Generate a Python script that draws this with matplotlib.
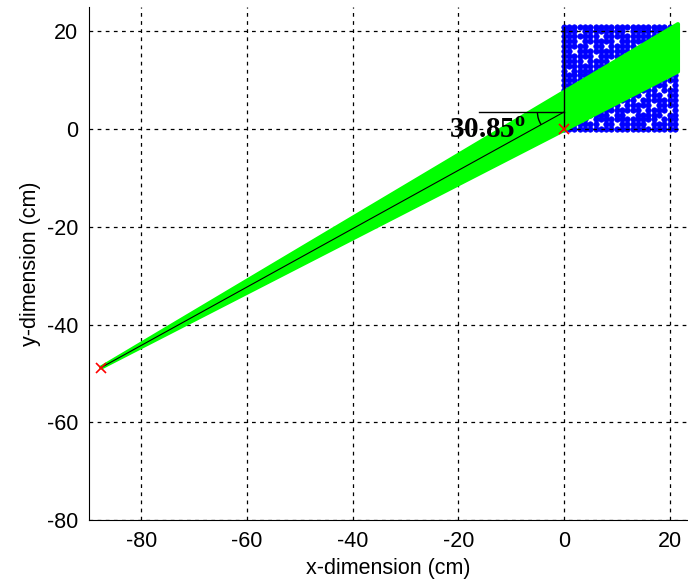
import matplotlib.pyplot as plt
from matplotlib.patches import Polygon, Arc

plt.rcParams['font.family'] = ['Liberation Sans', 'DejaVu Sans']
plt.rcParams['axes.unicode_minus'] = False

# source and target points (cm)
source = (-87.6, -48.8)
target = (0.0, 0.0)
aim = (0.0, 3.5)
angle_text = '30.85'

# green beam fan (edges at the right border)
beam_x = [-87.6, 21.6, 21.6]
beam_y = [-48.8, 11.8, 21.5]

# blue grid of sample points, with missing cells
grid_x = [0, 1, 2, 3, 4, 5, 6, 7, 8, 9, 10, 11, 12, 13, 14, 15, 16, 17, 18, 19, 20, 21]
grid_y = [0, 1, 2, 3, 4, 5, 6, 7, 8, 9, 10, 11, 12, 13, 14, 15, 16, 17, 18, 19, 20, 21]
holes = [(7, 19), (10, 18), (2, 16), (6, 15), (4, 14), (1, 12), (9, 14), (14, 17),
         (16, 16), (3, 20), (12, 20), (5, 17), (15, 7), (18, 8), (11, 5), (17, 5),
         (9, 3), (13, 3), (19, 3), (5, 2), (16, 1), (14, 6), (12, 3), (19, 7),
         (20, 4), (10, 1), (7, 1), (18, 2), (15, 4), (20, 9), (3, 18), (8, 17)]

pts_x, pts_y = [], []
for gx in grid_x:
    for gy in grid_y:
        if (gx, gy) not in holes:
            pts_x.append(gx)
            pts_y.append(gy)

fig = plt.figure(figsize=(6.88, 5.88), dpi=100)
ax = fig.add_axes([0.130, 0.1156, 0.870, 0.8724])

ax.plot(pts_x, pts_y, 'o', color='#0000ff', ms=4.0, mec='#0000ff', mew=0.4, zorder=2)
ax.add_patch(Polygon(list(zip(beam_x, beam_y)), closed=True, facecolor='#00ff00',
                     edgecolor='#00ff00', lw=3, joinstyle='round', zorder=3))
ax.plot([source[0], aim[0]], [source[1], aim[1]], color='black', lw=0.8, zorder=4)
ax.plot([0, 0], [0, 21], color='black', lw=1.0, zorder=4)
ax.plot([-16, 0], [aim[1], aim[1]], color='black', lw=1.0, zorder=4)
ax.add_patch(Arc(aim, 10, 10, theta1=180, theta2=210.85, color='black', lw=1.0, zorder=4))
ax.plot([source[0], target[0]], [source[1], target[1]], 'x', color='red', ms=7, mew=1.2, zorder=5)

ax.text(-21.8, -1.8, angle_text + r'$^{\mathregular{o}}$', family='Liberation Serif',
        fontweight='bold', fontsize=21, zorder=6)

ax.set_xlim(-89.8, 23.5)
ax.set_ylim(-80, 25)
ax.set_xticks([-80, -60, -40, -20, 0, 20])
ax.set_yticks([-80, -60, -40, -20, 0, 20])
ax.grid(True, color='black', linestyle=(0, (3, 3.5)), lw=0.9)
ax.set_axisbelow(False)
ax.spines['top'].set_visible(False)
ax.spines['right'].set_visible(False)
ax.tick_params(direction='in', length=0, labelsize=15.5, pad=8)
ax.set_xlabel('x-dimension (cm)', fontsize=15.5, labelpad=4)
ax.set_ylabel('y-dimension (cm)', fontsize=15.5, labelpad=4)

fig.savefig('out.png', dpi=100)
